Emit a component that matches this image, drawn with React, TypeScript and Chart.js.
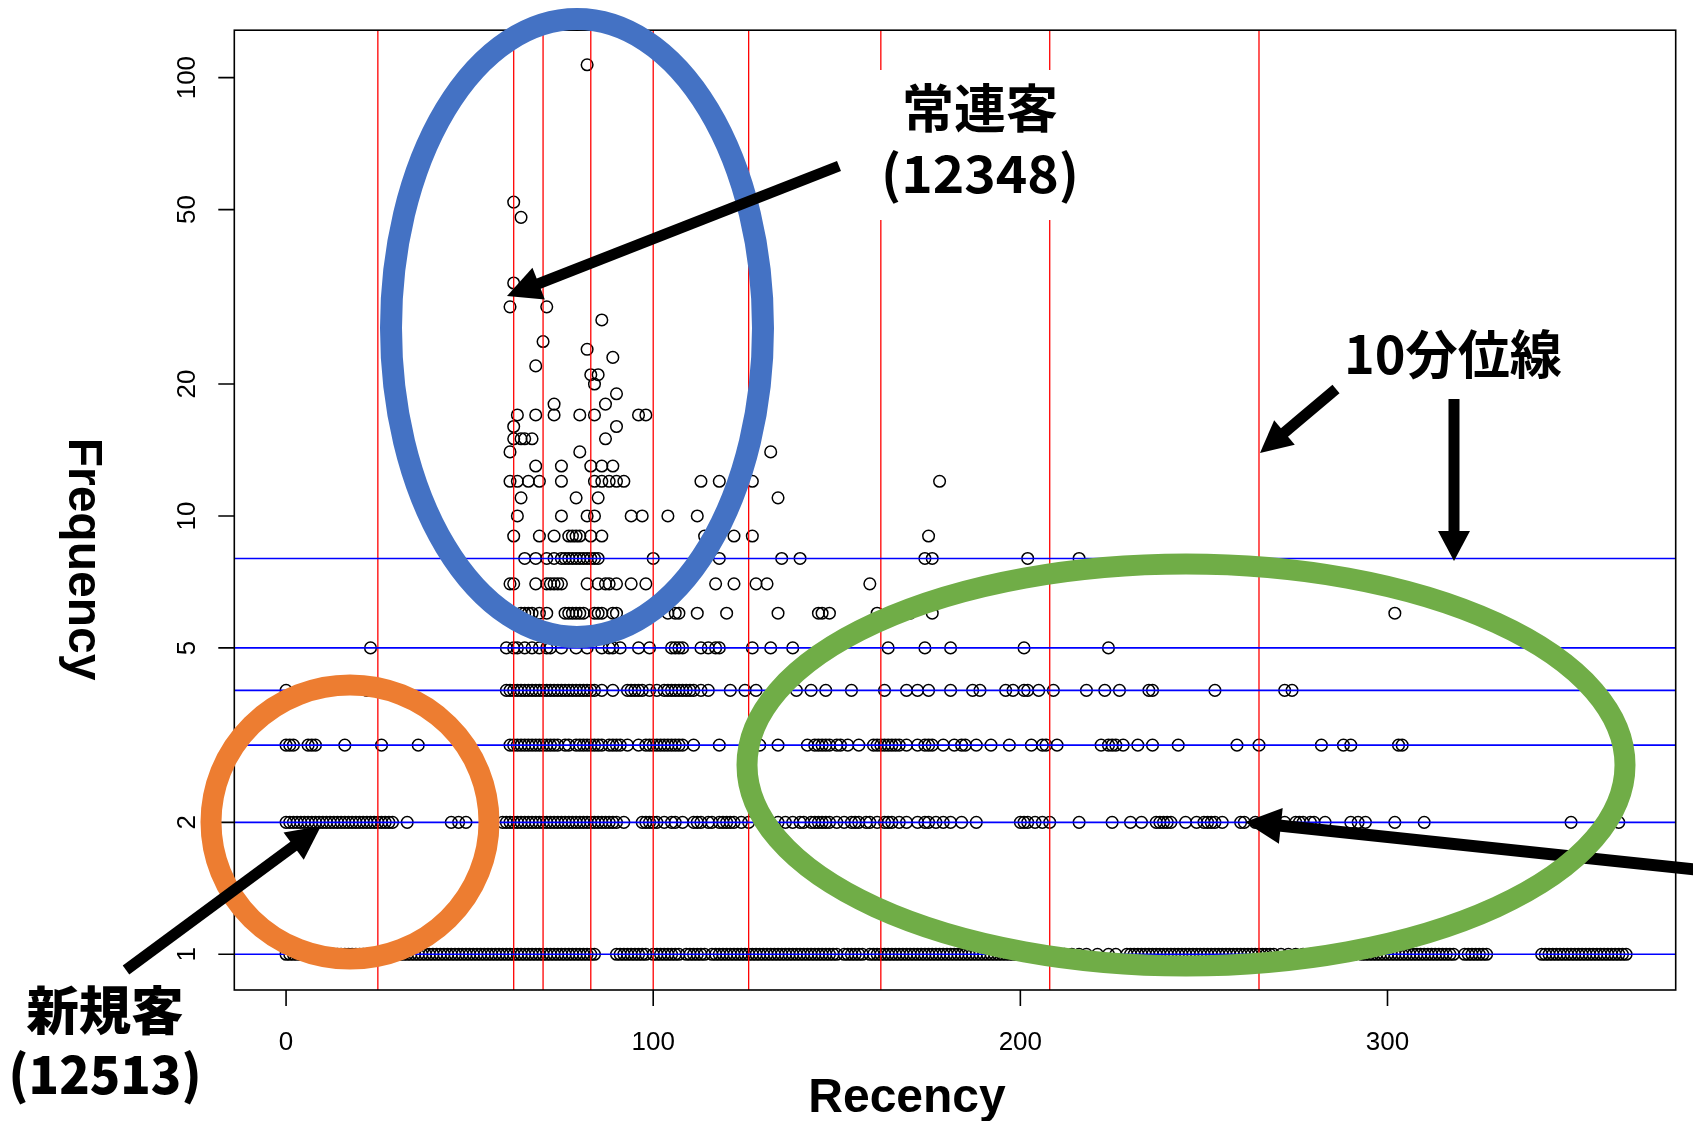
import React, { useEffect, useRef } from "react";
import { Chart, registerables } from "chart.js";

Chart.register(...registerables);

// ---------- data (recency values per frequency level) ----------
const recencyFreq1 = [
  0, 1, 2, 3, 4, 5, 6, 7, 8, 9, 10, 11, 12, 13, 14, 15, 16, 17, 18, 19, 20, 21, 22, 23, 24, 25, 26, 27, 28, 29,
  30, 31, 32, 33, 34, 35, 36, 37, 38, 39, 40, 41, 42, 43, 44, 45, 46, 47, 48, 49, 50, 51, 52, 53, 54, 55, 56, 57,
  58, 59, 60, 61, 62, 63, 64, 65, 66, 67, 68, 69, 70, 71, 72, 73, 74, 75, 76, 77, 78, 79, 80, 81, 82, 83, 84,
  90, 91, 92, 93, 94, 95, 96, 97, 98, 100, 101, 102, 103, 104, 105, 106, 107, 109, 110, 111, 112, 113, 114, 116,
  117, 118, 119, 120, 121, 122, 123, 124, 125, 126, 127, 128, 129, 130, 131, 132, 133, 134, 135, 136, 137, 138,
  139, 140, 141, 142, 143, 144, 145, 146, 147, 148, 149, 150, 152, 153, 154, 155, 156, 157, 159, 160, 161, 162,
  163, 164, 165, 166, 167, 168, 169, 170, 171, 172, 173, 174, 175, 176, 177, 178, 179, 180, 181, 182, 183, 184,
  185, 186, 187, 188, 189, 190, 191, 192, 193, 194, 195, 196, 197, 198, 199, 200, 202, 204, 206, 208, 210, 212,
  214, 216, 218, 221, 224, 226, 229, 230, 231, 232, 233, 234, 235, 236, 237, 238, 239, 240, 241, 242, 243, 244,
  245, 246, 247, 248, 249, 250, 251, 252, 253, 254, 255, 256, 257, 258, 259, 260, 261, 262, 263, 264, 265, 266,
  267, 268, 269, 271, 273, 275, 277, 279, 281, 283, 285, 287, 289, 291, 293, 294, 295, 296, 297, 298, 299, 300,
  301, 302, 303, 304, 305, 306, 307, 308, 309, 310, 311, 312, 313, 314, 315, 316, 317, 318, 321, 322, 323, 324,
  325, 326, 327, 342, 343, 344, 345, 346, 347, 348, 349, 350, 351, 352, 353, 354, 355, 356, 357, 358, 359, 360,
  361, 362, 363, 364, 365,
];

const recencyFreq2 = [
  0, 1, 2, 3, 4, 5, 6, 7, 8, 9, 10, 11, 12, 13, 14, 15, 16, 17, 18, 19, 20, 21, 22, 23, 24, 25, 26, 27, 28, 29,
  33, 45, 47, 49, 55, 59, 60, 61, 62, 63, 64, 65, 66, 67, 68, 69, 70, 71, 72, 73, 74, 75, 76, 77, 78, 79, 80, 81,
  82, 83, 84, 85, 86, 87, 88, 89, 90, 92, 97, 98, 99, 100, 101, 103, 105, 106, 108, 111, 112, 113, 115, 116, 118,
  119, 120, 121, 122, 124, 126, 134, 136, 138, 140, 141, 143, 144, 145, 146, 147, 148, 150, 152, 154, 155, 156,
  158, 159, 161, 163, 164, 165, 167, 169, 172, 174, 175, 177, 179, 181, 184, 188, 200, 201, 202, 204, 206, 208,
  216, 225, 230, 233, 237, 238, 239, 240, 241, 245, 248, 250, 251, 252, 253, 255, 260, 261, 264, 267, 272, 275,
  276, 277, 279, 280, 283, 290, 292, 294, 302, 310, 350, 363,
];

const recencyFreq3 = [
  0, 1, 2, 6, 7, 8, 16, 26, 36, 61, 62, 63, 64, 65, 66, 67, 68, 69, 70, 71, 72, 73, 74, 76, 77, 79, 80, 81, 82,
  83, 84, 85, 86, 88, 89, 90, 91, 93, 96, 98, 99, 100, 101, 102, 103, 104, 105, 106, 107, 108, 111, 118, 129, 134,
  142, 144, 145, 146, 147, 148, 150, 151, 153, 156, 160, 161, 162, 163, 164, 165, 166, 167, 169, 172, 174, 175,
  176, 179, 182, 184, 185, 188, 192, 197, 203, 206, 207, 210, 222, 224, 225, 226, 228, 232, 236, 243, 259, 265,
  282, 288, 290, 303, 304,
];

const recencyFreq4 = [
  0, 22, 60, 61, 62, 63, 64, 65, 66, 67, 68, 69, 70, 71, 72, 73, 74, 75, 76, 77, 78, 79, 80, 81, 82, 83, 84, 86,
  89, 93, 94, 95, 96, 97, 99, 101, 103, 104, 105, 106, 107, 108, 109, 110, 111, 113, 115, 121, 125, 128, 139, 143,
  147, 154, 163, 169, 172, 175, 181, 187, 189, 196, 198, 201, 202, 205, 209, 218, 223, 227, 235, 236, 253, 272,
  274,
];

const recencyFreq5 = [
  23, 60, 62, 63, 65, 67, 69, 71, 72, 75, 79, 82, 86, 88, 89, 91, 96, 99, 105, 106, 107, 108, 113, 115, 117, 118,
  127, 132, 138, 164, 174, 181, 201, 224,
];

const recencyFreq6 = [
  64, 65, 66, 67, 69, 71, 76, 77, 78, 79, 80, 81, 84, 85, 86, 89, 90, 104, 106, 107, 112, 120, 134, 145, 146, 148,
  161, 170, 176, 302,
];

const recencyFreq7 = [61, 62, 68, 71, 72, 73, 74, 75, 82, 85, 87, 88, 90, 94, 98, 117, 122, 128, 131, 159];

const recencyFreq8 = [
  65, 68, 71, 73, 75, 76, 77, 78, 79, 80, 81, 82, 83, 84, 85, 100, 118, 135, 140, 174, 176, 202, 216,
];

const recencyFreq9 = [62, 69, 73, 77, 78, 79, 80, 83, 86, 114, 122, 127, 175];

// heavy buyers (frequency >= 10): paired lists
const heavyRecency = [
  63, 75, 82, 84, 94, 97, 104, 112,
  64, 79, 85, 134,
  61, 63, 66, 69, 75, 84, 86, 88, 90, 92, 113, 118, 127, 178,
  68, 75, 83, 86, 89,
  61, 80, 132,
  62, 64, 65, 67, 87,
  62, 90,
  63, 68, 73, 80, 84, 96, 98,
  73, 87,
  90, 84, 83, 85, 68, 89, 82, 70, 86, 61, 71, 62, 64, 62, 82,
];
const heavyFrequency = [
  10, 10, 10, 10, 10, 10, 10, 10,
  11, 11, 11, 11,
  12, 12, 12, 12, 12, 12, 12, 12, 12, 12, 12, 12, 12, 12,
  13, 13, 13, 13, 13,
  14, 14, 14,
  15, 15, 15, 15, 15,
  16, 16,
  17, 17, 17, 17, 17, 17, 17,
  18, 18,
  19, 20, 21, 21, 22, 23, 24, 25, 28, 30, 30, 34, 48, 52, 107,
];

const lowFrequencyLevels = [1, 2, 3, 4, 5, 6, 7, 8, 9];
const lowRecencyLists = [
  recencyFreq1, recencyFreq2, recencyFreq3, recencyFreq4, recencyFreq5,
  recencyFreq6, recencyFreq7, recencyFreq8, recencyFreq9,
];

// decile lines
const recencyDeciles = [25, 62, 70, 83, 100, 126, 162, 208, 265];
const frequencyDeciles = [1, 2, 3, 4, 5, 8];

// axis ticks
const xTickValues = [0, 100, 200, 300];
const yTickValues = [1, 2, 5, 10, 20, 50, 100];

const W = 1693;
const H = 1121;

const LATIN = '"Liberation Sans", Arial, Helvetica, sans-serif';
const CJK = '"Noto Sans CJK JP", "Noto Sans CJK SC", sans-serif';

function drawArrow(
  ctx: CanvasRenderingContext2D,
  x1: number, y1: number, x2: number, y2: number,
  lw: number, headLen: number, headHalf: number
) {
  const ang = Math.atan2(y2 - y1, x2 - x1);
  const bx = x2 - headLen * Math.cos(ang);
  const by = y2 - headLen * Math.sin(ang);
  ctx.strokeStyle = "#000";
  ctx.fillStyle = "#000";
  ctx.lineWidth = lw;
  ctx.lineCap = "butt";
  ctx.beginPath();
  ctx.moveTo(x1, y1);
  ctx.lineTo(bx + 2 * Math.cos(ang), by + 2 * Math.sin(ang));
  ctx.stroke();
  ctx.beginPath();
  ctx.moveTo(x2, y2);
  ctx.lineTo(bx + headHalf * Math.sin(ang), by - headHalf * Math.cos(ang));
  ctx.lineTo(bx - headHalf * Math.sin(ang), by + headHalf * Math.cos(ang));
  ctx.closePath();
  ctx.fill();
}

function fitText(
  ctx: CanvasRenderingContext2D,
  text: string, cx: number, cy: number, font: string, targetW: number
) {
  ctx.font = font;
  const w = ctx.measureText(text).width;
  ctx.save();
  ctx.translate(cx, cy);
  ctx.scale(targetW / w, 1);
  ctx.textAlign = "center";
  ctx.textBaseline = "middle";
  ctx.fillStyle = "#000";
  ctx.fillText(text, 0, 0);
  ctx.restore();
}

const decorPlugin = {
  id: "rDecor",
  afterDraw(chart: any) {
    const ctx: CanvasRenderingContext2D = chart.ctx;
    const { left, right, top, bottom } = chart.chartArea;
    const xs = chart.scales.x;
    const ys = chart.scales.y;
    ctx.save();

    // plot box
    ctx.strokeStyle = "#000";
    ctx.lineWidth = 1.6;
    ctx.strokeRect(left, top, right - left, bottom - top);

    // ticks
    ctx.beginPath();
    for (const t of xTickValues) {
      const px = xs.getPixelForValue(t);
      ctx.moveTo(px, bottom);
      ctx.lineTo(px, bottom + 16);
    }
    for (const t of yTickValues) {
      const py = ys.getPixelForValue(t);
      ctx.moveTo(left, py);
      ctx.lineTo(left - 16, py);
    }
    ctx.stroke();

    // tick labels
    ctx.fillStyle = "#000";
    ctx.font = `26px ${LATIN}`;
    ctx.textAlign = "center";
    ctx.textBaseline = "alphabetic";
    for (const t of xTickValues) {
      ctx.fillText(String(t), xs.getPixelForValue(t), 1050);
    }
    for (const t of yTickValues) {
      ctx.save();
      ctx.translate(195, ys.getPixelForValue(t));
      ctx.rotate(-Math.PI / 2);
      ctx.fillText(String(t), 0, 0);
      ctx.restore();
    }

    // axis titles
    ctx.font = `bold 48px ${LATIN}`;
    ctx.fillText("Recency", 907, 1112);
    ctx.save();
    ctx.translate(68.5, 559);
    ctx.rotate(Math.PI / 2);
    ctx.fillText("Frequency", 0, 0);
    ctx.restore();

    // annotation shapes
    ctx.lineWidth = 21;
    ctx.strokeStyle = "#ED7D31";
    ctx.beginPath();
    ctx.ellipse(350, 822, 139, 137, 0, 0, Math.PI * 2);
    ctx.stroke();

    ctx.lineWidth = 22;
    ctx.strokeStyle = "#4472C4";
    ctx.beginPath();
    ctx.ellipse(577, 328, 186, 309, 0, 0, Math.PI * 2);
    ctx.stroke();

    drawArrow(ctx, 839, 166, 507, 296, 11, 34, 17);
    drawArrow(ctx, 126, 970, 321, 826, 11, 34, 17);
    drawArrow(ctx, 1336, 389, 1260, 453, 11, 32, 16);
    drawArrow(ctx, 1454, 399, 1454, 561, 11, 30, 16);
    drawArrow(ctx, 1700, 870, 1245, 822, 12, 36, 18);

    ctx.lineWidth = 21;
    ctx.strokeStyle = "#70AD47";
    ctx.beginPath();
    ctx.ellipse(1186, 765, 439, 201, 0, 0, Math.PI * 2);
    ctx.stroke();

    // white label box for 常連客
    ctx.fillStyle = "#FFFFFF";
    ctx.fillRect(862, 70, 228, 150);

    // annotation texts
    fitText(ctx, "常連客", 980, 108, `bold 52px ${CJK}`, 156);
    fitText(ctx, "(12348)", 980, 173, `bold 52px ${CJK}`, 198);
    fitText(ctx, "10分位線", 1453, 354, `bold 52px ${CJK}`, 218);
    fitText(ctx, "新規客", 105, 1010, `900 52px ${CJK}`, 157);
    fitText(ctx, "(12513)", 105, 1074, `900 52px ${CJK}`, 193);

    ctx.restore();
  },
};

export default function App() {
  const canvasRef = useRef<HTMLCanvasElement | null>(null);

  useEffect(() => {
    document.body.style.margin = "0";
    document.body.style.overflow = "hidden";
    const canvas = canvasRef.current;
    if (!canvas) return;

    const points: { x: number; y: number }[] = [];
    lowFrequencyLevels.forEach((f, i) => {
      for (const r of lowRecencyLists[i]) points.push({ x: r, y: f });
    });
    heavyRecency.forEach((r, i) => points.push({ x: r, y: heavyFrequency[i] }));

    const redLines = recencyDeciles.map((r) => ({
      type: "line" as const,
      data: [
        { x: r, y: 0.01 },
        { x: r, y: 10000 },
      ],
      borderColor: "#FF0000",
      borderWidth: 1.3,
      pointRadius: 0,
      showLine: true,
      fill: false,
      order: 1,
    }));
    const blueLines = frequencyDeciles.map((f) => ({
      type: "line" as const,
      data: [
        { x: -1000, y: f },
        { x: 1000, y: f },
      ],
      borderColor: "#0000FF",
      borderWidth: 1.6,
      pointRadius: 0,
      showLine: true,
      fill: false,
      order: 0,
    }));

    const chart = new Chart(canvas, {
      type: "scatter",
      data: {
        datasets: [
          ...blueLines,
          ...redLines,
          {
            type: "scatter" as const,
            data: points,
            pointStyle: "circle",
            pointRadius: 5.8,
            pointHoverRadius: 5.8,
            borderWidth: 1.5,
            borderColor: "#000000",
            backgroundColor: "rgba(0,0,0,0)",
            order: 2,
          },
        ] as any,
      },
      options: {
        responsive: false,
        maintainAspectRatio: false,
        animation: false,
        events: [],
        layout: { padding: { top: 30.2, right: 17.3, bottom: 0, left: 0 } },
        plugins: {
          legend: { display: false },
          tooltip: { enabled: false },
          title: { display: false },
        },
        scales: {
          x: {
            type: "linear",
            min: -14.1,
            max: 378.5,
            bounds: "data",
            ticks: { display: false },
            grid: { display: false, drawTicks: false },
            border: { display: false },
            afterFit: (s: any) => {
              s.height = 131;
            },
          },
          y: {
            type: "logarithmic",
            min: 0.829,
            max: 128.3,
            bounds: "data",
            ticks: { display: false },
            grid: { display: false, drawTicks: false },
            border: { display: false },
            afterFit: (s: any) => {
              s.width = 234.3;
            },
          },
        },
      } as any,
      plugins: [decorPlugin],
    });

    return () => chart.destroy();
  }, []);

  return (
    <div style={{ width: W, height: H, background: "#fff" }}>
      <canvas ref={canvasRef} width={W} height={H} style={{ display: "block", width: W, height: H }} />
    </div>
  );
}
